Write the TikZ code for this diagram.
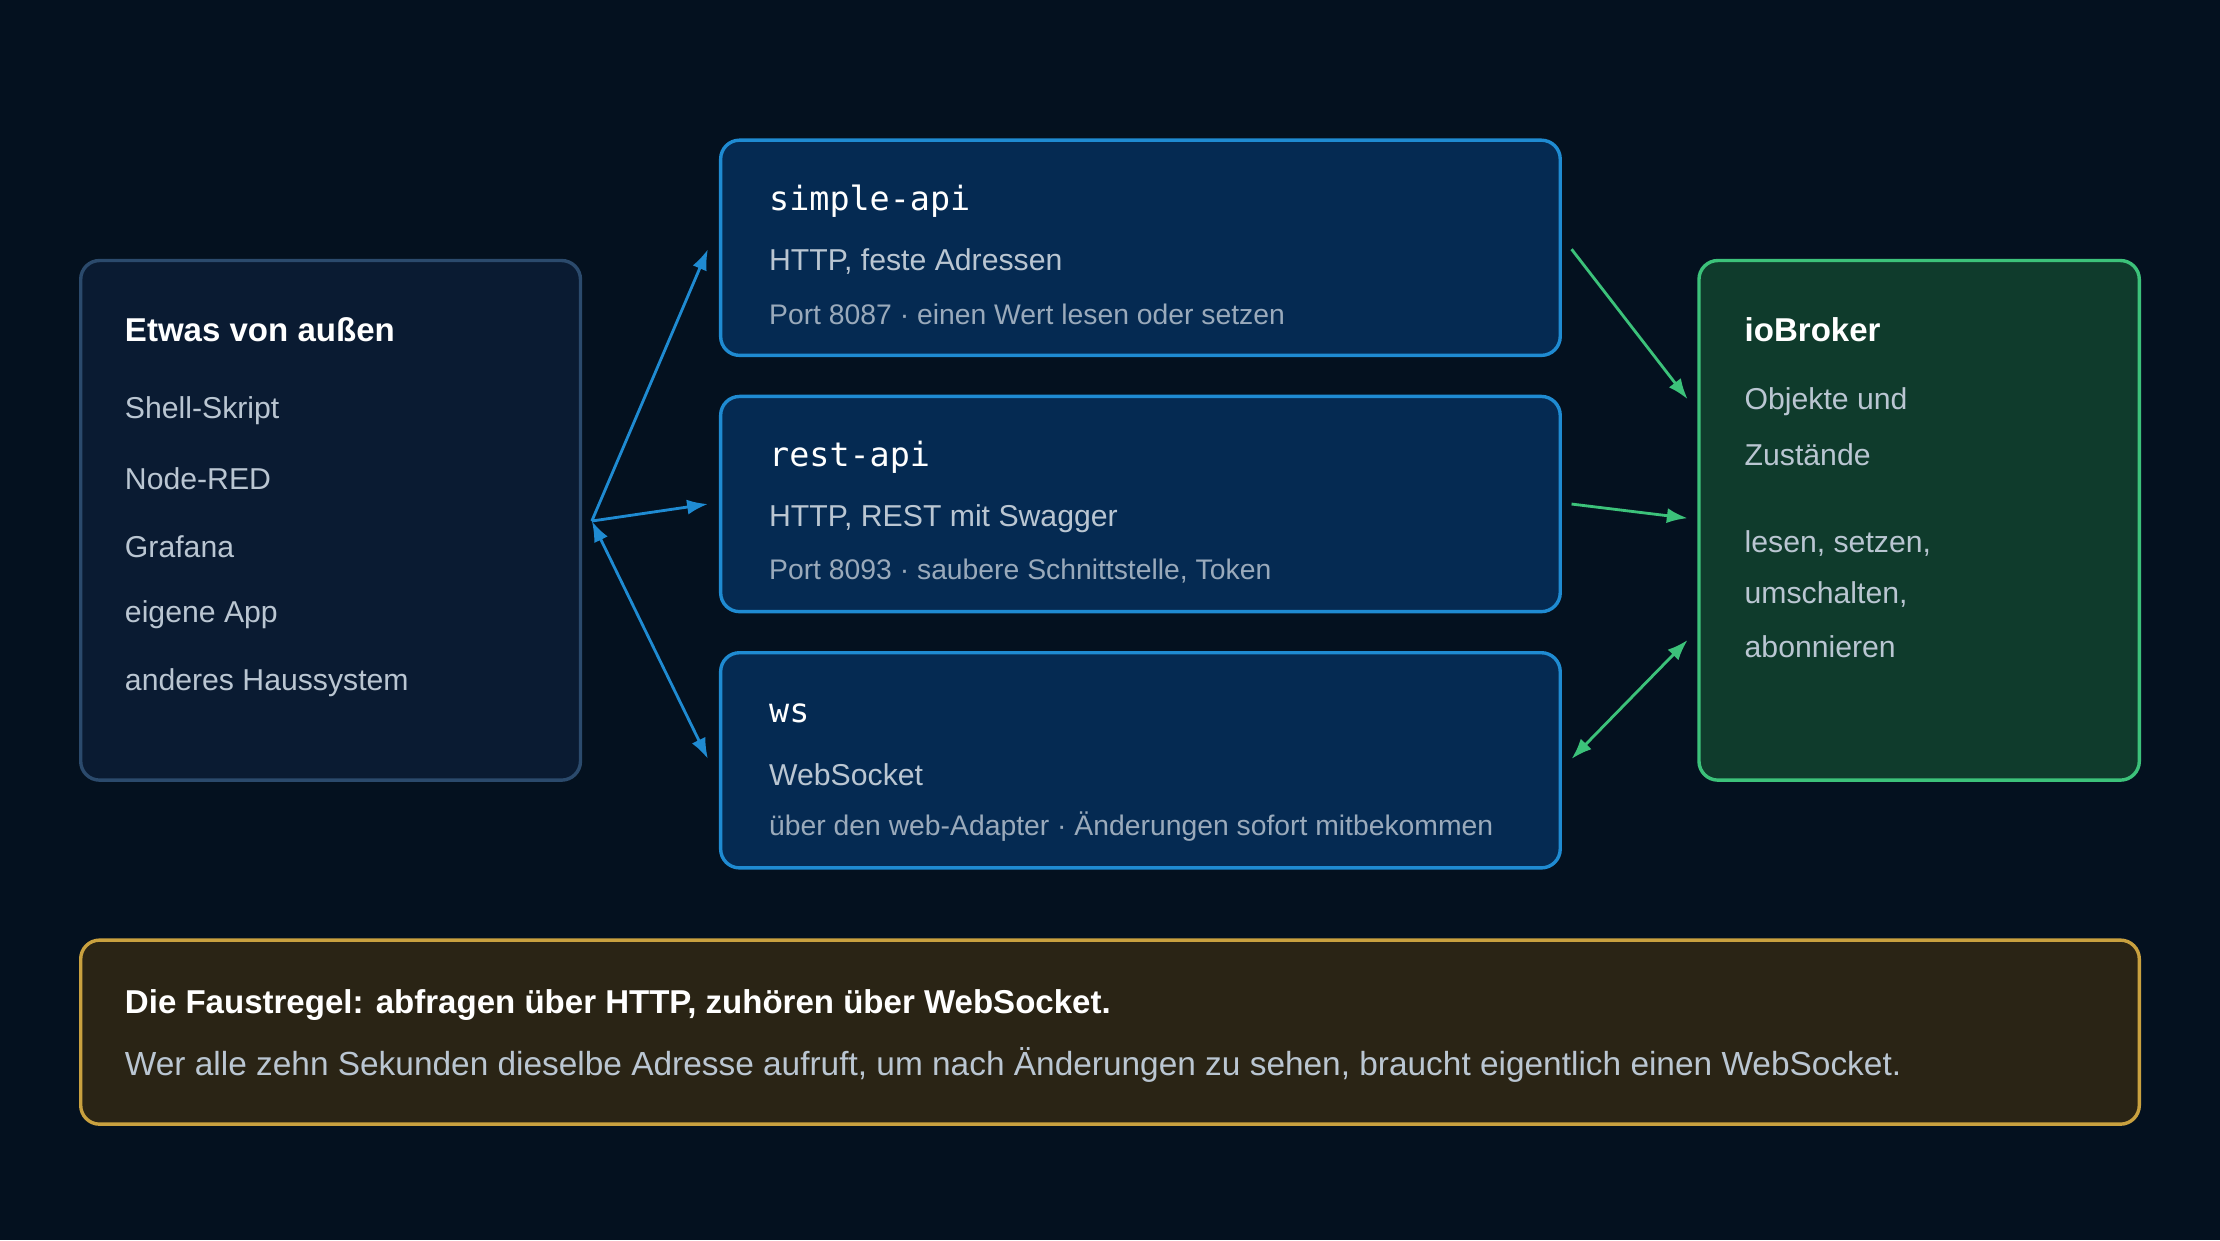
\documentclass[tikz,border=0pt]{standalone}
\usepackage{fontspec}
\setmainfont{Liberation Sans}
\setmonofont{DejaVu Sans Mono}
\usetikzlibrary{arrows.meta}
\definecolor{bg}{HTML}{04111F}
\definecolor{lfill}{HTML}{0A1B32}\definecolor{lborder}{HTML}{2B4A6C}
\definecolor{mfill}{HTML}{052A52}\definecolor{mborder}{HTML}{1F8BD2}
\definecolor{rfill}{HTML}{0F3B2C}\definecolor{rborder}{HTML}{3CC27A}
\definecolor{bfill}{HTML}{2A2415}\definecolor{bborder}{HTML}{C9A13F}
\definecolor{txt}{HTML}{BAC6D2}\definecolor{sub}{HTML}{9AAABB}
\begin{document}
\begin{tikzpicture}[x=0.75pt,y=-0.75pt,
 box/.style={rounded corners=10pt,line width=1.8pt},
 t/.style={anchor=west,inner sep=0,text=txt,font=\fontsize{16}{19}\selectfont},
 h/.style={anchor=west,inner sep=0,text=white,font=\fontsize{17.5}{21}\selectfont\bfseries},
 mono/.style={anchor=west,inner sep=0,text=white,font=\fontsize{17.7}{20}\selectfont\ttfamily},
 s/.style={anchor=west,inner sep=0,text=sub,font=\fontsize{15}{18}\selectfont},
 tip/.tip={Latex[length=11pt,width=8pt]},
 ba/.style={draw=mborder,line width=1.5pt,-tip},
 ga/.style={draw=rborder,line width=1.5pt,-tip}]
\fill[bg] (0,0) rectangle (1568,876);
\useasboundingbox (0,0) rectangle (1568,876);
% left
\draw[box,fill=lfill,draw=lborder] (57,184) rectangle (410,551);
\node[h] (lt) at (88,233) {Etwas von außen};
\node[t] at (88,290) {Shell-Skript};
\node[t] at (88,338) {Node-RED};
\node[t] at (88,386) {Grafana};
\node[t] at (88,434) {eigene App};
\node[t] at (88,482) {anderes Haussystem};
% middle
\foreach \y/\a/\b/\c in {99/simple-api/{HTTP, feste Adressen}/{Port 8087 · einen Wert lesen oder setzen},
 280/rest-api/{HTTP, REST mit Swagger}/{Port 8093 · saubere Schnittstelle, Token},
 461/ws/WebSocket/{über den web-Adapter · Änderungen sofort mitbekommen}}{
 \draw[box,fill=mfill,draw=mborder] (509,\y) rectangle (1102,\y+152);
 \node[mono] at (543,\y+43) {\a};
 \node[t] at (543,\y+86) {\b};
 \node[s] at (543,\y+123) {\c};
}
% right
\draw[box,fill=rfill,draw=rborder] (1200,184) rectangle (1511,551);
\node[h] at (1232,233) {ioBroker};
\node[t] at (1232,284) {Objekte und};
\node[t] at (1232,321) {Zustände};
\node[t] at (1232,384) {lesen, setzen,};
\node[t] at (1232,420) {umschalten,};
\node[t] at (1232,457) {abonnieren};
% bottom
\draw[box,fill=bfill,draw=bborder] (57,664) rectangle (1511,794);
\node[h] at (88,710) {Die Faustregel: abfragen über HTTP, zuhören über WebSocket.};
\node[t,font=\fontsize{17.7}{21}\selectfont] at (88,752) {Wer alle zehn Sekunden dieselbe Adresse aufruft, um nach Änderungen zu sehen, braucht eigentlich einen WebSocket.};
% arrows
\coordinate (L) at (418,368);
\coordinate (m1) at (500,176);\coordinate (m2) at (500,356);\coordinate (m3) at (500,536);
\coordinate (n1) at (1110,176);\coordinate (n2) at (1110,356);\coordinate (n3) at (1110,536);
\coordinate (r1) at (1192,282);\coordinate (r2) at (1192,366);\coordinate (r3) at (1192,452);
\draw[ba] (L) -- (m1);
\draw[ba] (L) -- (m2);
\draw[ba,tip-tip] (L) -- (m3);
\draw[ga] (n1) -- (r1);
\draw[ga] (n2) -- (r2);
\draw[ga,tip-tip] (n3) -- (r3);
\end{tikzpicture}
\end{document}
